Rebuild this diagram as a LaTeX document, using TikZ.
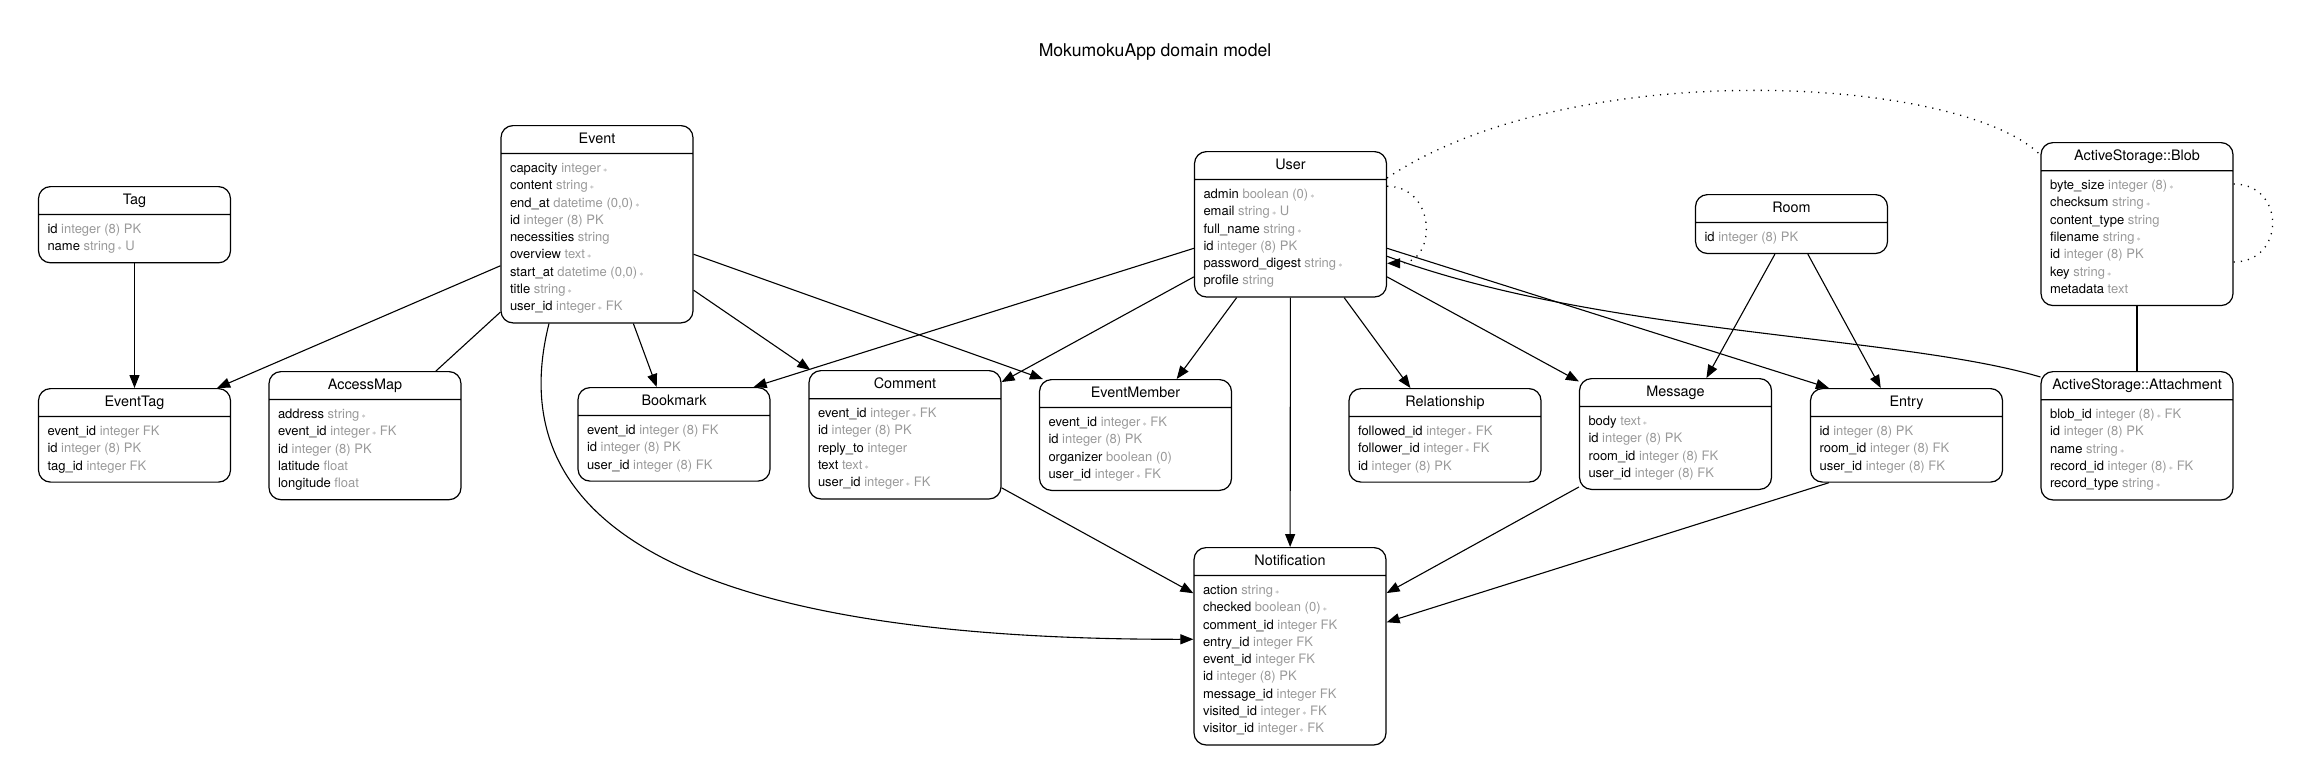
\documentclass[tikz,border=0pt]{standalone}
\usepackage{fontspec}
\setmainfont{TeX Gyre Heros}
\usetikzlibrary{shapes.multipart, arrows.meta, calc}
\definecolor{typegray}{RGB}{153, 153, 153}
\newcommand{\field}[2]{\strut#1 \textcolor{typegray}{#2}}
\newcommand{\req}{\,{\fontsize{8}{8}\selectfont$\ast$}}
\newcommand{\ehead}[1]{{\fontsize{14.4}{17}\selectfont\rule[-3.5pt]{0pt}{14pt}#1}}

\begin{document}
\begin{tikzpicture}[x=1pt, y=-1pt,
    entity/.style={rectangle split, rectangle split parts=2, draw, line width=1.2pt,
      rounded corners=12pt, minimum width=192pt, inner xsep=9pt, inner ysep=6.3pt,
      rectangle split part align={center, left}, align=left, anchor=north,
      font=\fontsize{13}{17.3}\selectfont},
    fk/.style={line width=1.1pt, -{Triangle[length=13pt, width=10pt]}},
    link/.style={line width=1.1pt},
    soft/.style={line width=1.3pt, dash pattern=on 1.2pt off 6pt}]
  \useasboundingbox (0, 0) rectangle (2310, 782);

  \node[font=\fontsize{17.6}{20}\selectfont] (title) at (1155, 52) {MokumokuApp domain model};

  % Event side
  \node[entity] (tag) at (134.5, 186) {\ehead{Tag}
    \nodepart{two} \field{id}{integer (8) PK}\\ \field{name}{string\req{} U}};
  \node[entity] (eventtag) at (134.5, 388) {\ehead{EventTag}
    \nodepart{two} \field{event\_id}{integer FK}\\ \field{id}{integer (8) PK}\\ \field{tag\_id}{integer FK}};
  \node[entity] (accessmap) at (365, 371) {\ehead{AccessMap}
    \nodepart{two} \field{address}{string\req}\\ \field{event\_id}{integer\req{} FK}\\ \field{id}{integer (8) PK}\\
    \field{latitude}{float}\\ \field{longitude}{float}};
  \node[entity] (event) at (597, 125) {\ehead{Event}
    \nodepart{two} \field{capacity}{integer\req}\\ \field{content}{string\req}\\ \field{end\_at}{datetime (0,0)\req}\\
    \field{id}{integer (8) PK}\\ \field{necessities}{string}\\ \field{overview}{text\req}\\
    \field{start\_at}{datetime (0,0)\req}\\ \field{title}{string\req}\\ \field{user\_id}{integer\req{} FK}};
  \node[entity] (bookmark) at (674, 387) {\ehead{Bookmark}
    \nodepart{two} \field{event\_id}{integer (8) FK}\\ \field{id}{integer (8) PK}\\ \field{user\_id}{integer (8) FK}};
  \node[entity] (comment) at (905, 370) {\ehead{Comment}
    \nodepart{two} \field{event\_id}{integer\req{} FK}\\ \field{id}{integer (8) PK}\\ \field{reply\_to}{integer}\\
    \field{text}{text\req}\\ \field{user\_id}{integer\req{} FK}};
  \node[entity] (eventmember) at (1135.5, 379) {\ehead{EventMember}
    \nodepart{two} \field{event\_id}{integer\req{} FK}\\ \field{id}{integer (8) PK}\\ \field{organizer}{boolean (0)}\\
    \field{user\_id}{integer\req{} FK}};

  % User side
  \node[entity] (user) at (1290.5, 151) {\ehead{User}
    \nodepart{two} \field{admin}{boolean (0)\req}\\ \field{email}{string\req{} U}\\ \field{full\_name}{string\req}\\
    \field{id}{integer (8) PK}\\ \field{password\_digest}{string\req}\\ \field{profile}{string}};
  \node[entity] (relationship) at (1445, 388) {\ehead{Relationship}
    \nodepart{two} \field{followed\_id}{integer\req{} FK}\\ \field{follower\_id}{integer\req{} FK}\\ \field{id}{integer (8) PK}};
  \node[entity] (room) at (1791.5, 194) {\ehead{Room}
    \nodepart{two} \field{id}{integer (8) PK}};
  \node[entity] (message) at (1675.5, 378) {\ehead{Message}
    \nodepart{two} \field{body}{text\req}\\ \field{id}{integer (8) PK}\\ \field{room\_id}{integer (8) FK}\\
    \field{user\_id}{integer (8) FK}};
  \node[entity] (entry) at (1906.5, 388) {\ehead{Entry}
    \nodepart{two} \field{id}{integer (8) PK}\\ \field{room\_id}{integer (8) FK}\\ \field{user\_id}{integer (8) FK}};
  \node[entity] (blob) at (2137, 142) {\ehead{ActiveStorage::Blob}
    \nodepart{two} \field{byte\_size}{integer (8)\req}\\ \field{checksum}{string\req}\\ \field{content\_type}{string}\\
    \field{filename}{string\req}\\ \field{id}{integer (8) PK}\\ \field{key}{string\req}\\ \field{metadata}{text}};
  \node[entity] (attachment) at (2137, 371) {\ehead{ActiveStorage::Attachment}
    \nodepart{two} \field{blob\_id}{integer (8)\req{} FK}\\ \field{id}{integer (8) PK}\\ \field{name}{string\req}\\
    \field{record\_id}{integer (8)\req{} FK}\\ \field{record\_type}{string\req}};
  \node[entity] (notification) at (1290, 547) {\ehead{Notification}
    \nodepart{two} \field{action}{string\req}\\ \field{checked}{boolean (0)\req}\\ \field{comment\_id}{integer FK}\\
    \field{entry\_id}{integer FK}\\ \field{event\_id}{integer FK}\\ \field{id}{integer (8) PK}\\
    \field{message\_id}{integer FK}\\ \field{visited\_id}{integer\req{} FK}\\ \field{visitor\_id}{integer\req{} FK}};

  % Associations
  \draw[fk] (tag) -- (eventtag);
  \draw[fk] (event) -- ($(eventtag.north east)+(-14, 0)$);
  \draw[link] (event) -- (accessmap);
  \draw[fk] (event) -- (bookmark);
  \draw[fk] (event) -- (comment);
  \draw[fk] ($(event.east)+(0, 30)$) -- ($(eventmember.north west)+(4, 0)$);
  \draw[fk] ($(event.south)+(-48, 0)$) .. controls (497, 530) and (700, 640) .. ($(notification.west)+(0, -7)$);

  \draw[fk] ($(user.west)+(0, 24)$) -- ($(bookmark.north east)+(-17, 0)$);
  \draw[fk] (user) -- (comment);
  \draw[fk] (user) -- (eventmember);
  \draw[fk] (user) -- (notification);
  \draw[fk] (user) -- (relationship);
  \draw[fk] (user) -- (message);
  \draw[fk] ($(user.east)+(0, 24)$) -- ($(entry.north west)+(19, 0)$);
  \draw[link] ($(user.east)+(0, 32)$) .. controls (1600, 335) and (1900, 335) .. ($(attachment.north west)+(0, 6)$);
  \draw[soft, -{Triangle[length=13pt, width=10pt]}] ($(user.east)+(0, -38)$) .. controls +(50, 0) and +(50, 0) .. ($(user.east)+(0, 39)$);
  \draw[soft] ($(user.north east)+(0, 27)$) .. controls (1570, 55) and (1960, 75) .. ($(blob.north west)+(0, 13)$);
  \draw[soft] ($(blob.north east)+(0, 42)$) .. controls +(52, 0) and +(52, 0) .. ($(blob.north east)+(0, 120)$);
  \draw[link] (blob) -- (attachment);

  \draw[fk] (room) -- (message);
  \draw[fk] (room) -- (entry);
  \draw[fk] (comment) -- (notification);
  \draw[fk] (message) -- (notification);
  \draw[fk] ($(entry.south west)+(19, 0)$) -- ($(notification.east)+(0, -24)$);
\end{tikzpicture}
\end{document}
